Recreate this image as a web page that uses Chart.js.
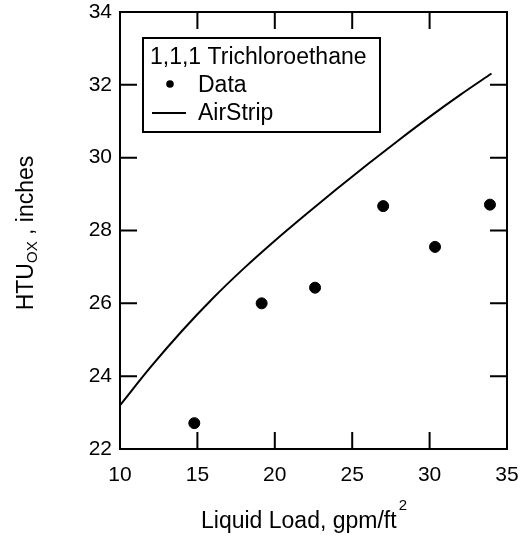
<!DOCTYPE html>
<html><head><meta charset="utf-8">
<script src="https://cdn.jsdelivr.net/npm/chart.js@4"></script>
<style>html,body{margin:0;padding:0;background:#fff}#wrap{width:523px;height:549px}</style>
</head><body><div id="wrap"><canvas id="c" width="523" height="549"></canvas></div>
<script>
// ---- data ----
const dataX = [14.8, 19.15, 22.6, 27.0, 30.35, 33.9];
const dataY = [22.71, 26.0, 26.43, 28.67, 27.55, 28.71];
const airX = [10, 12, 14, 16, 18, 20, 22, 24, 26, 28, 30, 32, 34];
const airY = [23.2, 24.26, 25.24, 26.14, 26.96, 27.72, 28.44, 29.14, 29.82, 30.48, 31.12, 31.73, 32.31];
const xTicks = [10, 15, 20, 25, 30, 35];
const yTicks = [22, 24, 26, 28, 30, 32, 34];
const legendTitle = '1,1,1 Trichloroethane';
const seriesNames = ['Data', 'AirStrip'];
const xTitle = ['Liquid Load, gpm/ft', '2'];
const yTitle = ['HTU', 'OX', ' , inches'];

const FONT = 'Liberation Sans';
const f = s => s + 'px "' + FONT + '"';

const decor = {
  id: 'decor',
  afterDraw(chart) {
    const ctx = chart.ctx;
    const a = chart.chartArea;
    const xs = chart.scales.x, ys = chart.scales.y;
    ctx.save();
    ctx.strokeStyle = '#000';
    ctx.lineWidth = 2;
    ctx.strokeRect(a.left, a.top, a.right - a.left, a.bottom - a.top);
    const TL = 17;
    ctx.beginPath();
    xs.ticks.forEach(t => {
      const px = xs.getPixelForValue(t.value);
      if (px <= a.left + 1 || px >= a.right - 1) return;
      ctx.moveTo(px, a.bottom); ctx.lineTo(px, a.bottom - TL);
      ctx.moveTo(px, a.top); ctx.lineTo(px, a.top + TL);
    });
    ys.ticks.forEach(t => {
      const py = ys.getPixelForValue(t.value);
      if (py <= a.top + 1 || py >= a.bottom - 1) return;
      ctx.moveTo(a.left, py); ctx.lineTo(a.left + TL, py);
      ctx.moveTo(a.right, py); ctx.lineTo(a.right - TL, py);
    });
    ctx.stroke();

    ctx.fillStyle = '#000';
    ctx.textBaseline = 'alphabetic';
    ctx.textAlign = 'left';
    // x title with superscript
    ctx.font = f(23);
    const w1 = ctx.measureText(xTitle[0]).width;
    ctx.font = f(15);
    const w2 = ctx.measureText(xTitle[1]).width;
    const x0 = 304 - (w1 + w2 + 2) / 2;
    ctx.font = f(23);
    ctx.fillText(xTitle[0], x0, 528);
    ctx.font = f(15);
    ctx.fillText(xTitle[1], x0 + w1 + 2, 510);

    // y title rotated with subscript
    ctx.save();
    ctx.translate(33, 233);
    ctx.rotate(-Math.PI / 2);
    ctx.font = f(23);
    const u1 = ctx.measureText(yTitle[0]).width;
    const u3 = ctx.measureText(yTitle[2]).width;
    ctx.font = f(15);
    const u2 = ctx.measureText(yTitle[1]).width;
    let px = -(u1 + u2 + u3) / 2;
    ctx.font = f(23);
    ctx.fillText(yTitle[0], px, 0); px += u1;
    ctx.font = f(15);
    ctx.fillText(yTitle[1], px, 4); px += u2;
    ctx.font = f(23);
    ctx.fillText(yTitle[2], px, 0);
    ctx.restore();

    // legend box
    ctx.lineWidth = 2;
    ctx.strokeRect(143, 38, 237, 94);
    ctx.font = f(23);
    ctx.fillText(legendTitle, 150, 64);
    ctx.beginPath();
    ctx.arc(170, 84, 3.8, 0, Math.PI * 2);
    ctx.fill();
    ctx.fillText(seriesNames[0], 198, 92);
    ctx.lineWidth = 2;
    ctx.beginPath();
    ctx.moveTo(152, 113); ctx.lineTo(186, 113);
    ctx.stroke();
    ctx.fillText(seriesNames[1], 198, 120);
    ctx.restore();
  }
};

new Chart(document.getElementById('c'), {
  type: 'scatter',
  data: {
    datasets: [
      {
        label: seriesNames[0],
        data: dataX.map((x, i) => ({ x, y: dataY[i] })),
        backgroundColor: '#000',
        borderColor: '#000',
        pointRadius: 5.5,
        pointHoverRadius: 5.5,
        showLine: false
      },
      {
        label: seriesNames[1],
        data: airX.map((x, i) => ({ x, y: airY[i] })),
        borderColor: '#000',
        borderWidth: 2,
        pointRadius: 0,
        showLine: true,
        cubicInterpolationMode: 'monotone'
      }
    ]
  },
  options: {
    responsive: false,
    animation: false,
    devicePixelRatio: 1,
    layout: { padding: { top: 12, right: 16, left: 0, bottom: 0 } },
    plugins: { legend: { display: false }, tooltip: { enabled: false } },
    scales: {
      x: {
        type: 'linear', min: 10, max: 35,
        afterBuildTicks: s => { s.ticks = xTicks.map(v => ({ value: v })); },
        afterFit: s => { s.height = 100; s.paddingLeft = 0; s.paddingRight = 0; },
        grid: { display: false, drawTicks: false },
        border: { display: false },
        ticks: { color: '#000', font: { family: FONT, size: 21 }, padding: 14, maxRotation: 0 }
      },
      y: {
        type: 'linear', min: 22, max: 34,
        afterBuildTicks: s => { s.ticks = yTicks.map(v => ({ value: v })); },
        afterFit: s => { s.width = 120; s.paddingTop = 0; s.paddingBottom = 0; },
        grid: { display: false, drawTicks: false },
        border: { display: false },
        ticks: { color: '#000', font: { family: FONT, size: 21 }, padding: 8 }
      }
    }
  },
  plugins: [decor]
});
</script>
</body></html>
